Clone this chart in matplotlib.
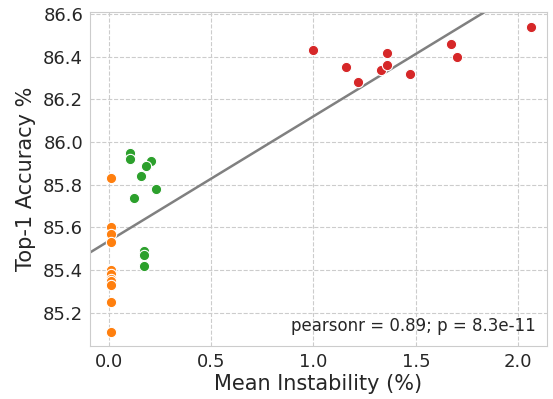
import numpy as np
import matplotlib
matplotlib.use('Agg')
import matplotlib.pyplot as plt
import seaborn as sns

#--------------------------------
# data
orange_x = [0.01, 0.01, 0.01, 0.01, 0.01, 0.01, 0.01, 0.01, 0.01, 0.01, 0.01]
orange_y = [85.83, 85.60, 85.57, 85.53, 85.40, 85.38, 85.36, 85.35, 85.33, 85.25, 85.11]

green_x = [0.105, 0.105, 0.205, 0.185, 0.16, 0.23, 0.125, 0.175, 0.175, 0.175]
green_y = [85.95, 85.92, 85.91, 85.89, 85.84, 85.78, 85.74, 85.49, 85.47, 85.42]

red_x = [1.00, 1.16, 1.22, 1.33, 1.36, 1.36, 1.47, 1.67, 1.70, 2.06]
red_y = [86.43, 86.35, 86.28, 86.34, 86.42, 86.36, 86.32, 86.46, 86.40, 86.54]

annot = 'pearsonr = 0.89; p = 8.3e-11'

#--------------------------------

def main() :
    sns.set_style('whitegrid', {'grid.linestyle': '--', 'axes.edgecolor': '.8'})
    fig = plt.figure(figsize=(5.53, 3.99), dpi=100)
    ax = fig.add_axes([0.163, 0.133, 0.826, 0.837])

    all_x = np.array(orange_x + green_x + red_x)
    all_y = np.array(orange_y + green_y + red_y)
    k, b = np.polyfit(all_x, all_y, 1)
    xs = np.array([-0.2, 2.3])
    ax.plot(xs, k*xs + b, color='gray', lw=1.8, zorder=1)

    for xx, yy, c in [(orange_x, orange_y, 'tab:orange'),
                      (green_x, green_y, 'tab:green'),
                      (red_x, red_y, 'tab:red')] :
        ax.scatter(xx, yy, s=55, color=c, edgecolor='white', linewidth=0.8, zorder=3)

    ax.set_xlim(-0.09, 2.14)
    ax.set_ylim(85.045, 86.61)
    ax.set_xticks([0.0, 0.5, 1.0, 1.5, 2.0])
    ax.set_yticks([85.2, 85.4, 85.6, 85.8, 86.0, 86.2, 86.4, 86.6])
    ax.tick_params(labelsize=13, colors='#262626', length=0, pad=5)
    ax.set_xlabel('Mean Instability (%)', fontsize=15, color='#262626', labelpad=2)
    ax.set_ylabel('Top-1 Accuracy %', fontsize=15, color='#262626', labelpad=5)
    ax.text(0.975, 0.06, annot, transform=ax.transAxes, ha='right', va='center',
            fontsize=12, color='#262626')

    fig.savefig('out.png', dpi=100)

#--------------------------------

if __name__ == "__main__" :
    main()
